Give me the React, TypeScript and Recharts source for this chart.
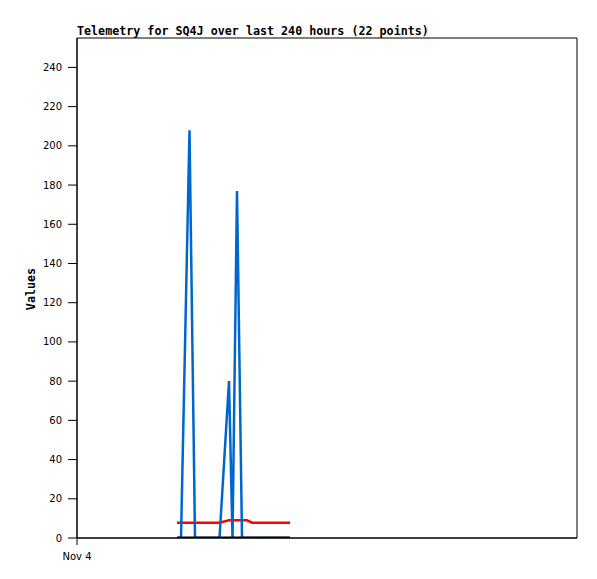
import React from "react";
import { LineChart, Line, XAxis, YAxis, ReferenceArea } from "recharts";

const hours = [48.0, 49.92, 54.0, 56.64, 59.52, 62.4, 65.28, 68.4, 72.96, 74.64, 76.8, 79.2, 81.6, 84.0, 86.4, 88.8, 91.2, 93.6, 96.0, 98.4, 100.32, 102.24];
const blueValues = [0, 0, 208, 0, 0, 0, 0, 0, 80, 0, 177, 0, 0, 0, 0, 0, 0, 0, 0, 0, 0, 0];
const redValues = [7.8, 7.8, 7.8, 7.8, 7.8, 7.8, 7.8, 7.8, 9, 9, 9, 9, 9, 7.8, 7.8, 7.8, 7.8, 7.8, 7.8, 7.8, 7.8, 7.8];
const blackValues = [0, 0, 0, 0, 0, 0, 0, 0, 0, 0, 0, 0, 0, 0, 0, 0, 0, 0, 0, 0, 0, 0];
const yTicks = [0, 20, 40, 60, 80, 100, 120, 140, 160, 180, 200, 220, 240];
const xTicks = [0];
const xTickLabels = ["Nov 4"];
const title = "Telemetry for SQ4J over last 240 hours (22 points)";
const yLabel = "Values";

const data = hours.map((h, i) => ({ h, blue: blueValues[i], red: redValues[i], black: blackValues[i] }));

const tickFont = { fontFamily: "DejaVu Sans", fontSize: 10, fill: "#000" };

export default function App() {
  return (
    <div style={{ position: "absolute", left: 0, top: 0, width: 597, height: 579, background: "#fff" }}>
      <LineChart width={597} height={579} data={data} margin={{ top: 38, right: 20, bottom: 0, left: 0 }}>
        <XAxis
          dataKey="h"
          type="number"
          domain={[0, 240]}
          ticks={xTicks}
          tickFormatter={(v: number) => xTickLabels[xTicks.indexOf(v)] ?? ""}
          height={41}
          tickSize={7}
          tickMargin={8}
          stroke="#000"
          tickLine={{ stroke: "#000" }}
          axisLine={{ stroke: "#000" }}
          tick={tickFont}
          allowDataOverflow
        />
        <YAxis
          type="number"
          domain={[0, 255]}
          ticks={yTicks}
          width={77}
          tickSize={9}
          tickMargin={6}
          stroke="#000"
          tickLine={{ stroke: "#000" }}
          axisLine={{ stroke: "#000" }}
          tick={tickFont}
          allowDataOverflow
        />
        <ReferenceArea x1={0} x2={240} y1={0} y2={255} fill="none" stroke="#000" strokeWidth={1} ifOverflow="visible" />
        <Line type="linear" dataKey="red" stroke="#ff0000" strokeWidth={2.5} dot={false} isAnimationActive={false} />
        <Line type="linear" dataKey="blue" stroke="#0066cc" strokeWidth={2.5} dot={false} isAnimationActive={false} />
        <Line type="linear" dataKey="black" stroke="#000000" strokeWidth={3} dot={false} isAnimationActive={false} />
      </LineChart>
      <svg width={597} height={579} style={{ position: "absolute", left: 0, top: 0, pointerEvents: "none" }}>
        <text x={77} y={35} fontFamily="DejaVu Sans Mono" fontWeight="bold" fontSize={11.7} fill="#000">
          {title}
        </text>
        <text
          x={35}
          y={289}
          fontFamily="DejaVu Sans Mono"
          fontWeight="bold"
          fontSize={11.7}
          fill="#000"
          textAnchor="middle"
          transform="rotate(-90 35 289)"
        >
          {yLabel}
        </text>
      </svg>
    </div>
  );
}
